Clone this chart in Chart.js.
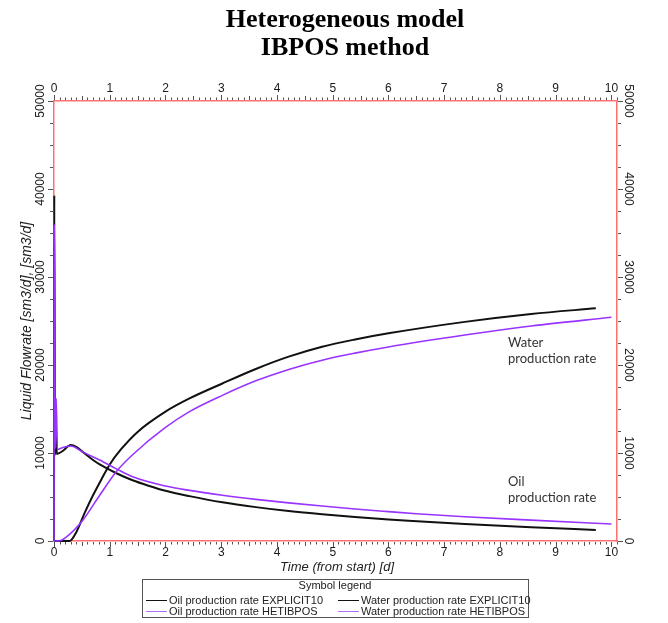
<!DOCTYPE html>
<html><head><meta charset="utf-8">
<script src="https://cdn.jsdelivr.net/npm/chart.js@4.4.0/dist/chart.umd.min.js"></script>
<style>html,body{margin:0;padding:0;background:#fff;} canvas{display:block;}</style>
</head><body>
<canvas id="c" width="668" height="623"></canvas>
<script>
// ---- text ----
const titleLines = ['Heterogeneous model', 'IBPOS method'];
const xTitle = 'Time (from start) [d]';
const yTitle = 'Liquid Flowrate [sm3/d], [sm3/d]';
const legendTitle = 'Symbol legend';
const seriesNames = ['Oil production rate EXPLICIT10', 'Water production rate EXPLICIT10',
                     'Oil production rate HETIBPOS', 'Water production rate HETIBPOS'];
const annotWater = ['Water', 'production rate'];
const annotOil = ['Oil', 'production rate'];

// ---- tick labels ----
const xTickLabels = ['0','1','2','3','4','5','6','7','8','9','10'];
const yTickLabels = ['0','10000','20000','30000','40000','50000'];

// ---- series (time [d], rate [sm3/d]) ----
const tOilExp = [0, 0.005, 0.02, 0.035, 0.05, 0.15, 0.3, 0.4, 0.52, 0.7, 0.82, 1.12, 1.41, 1.71, 2.0, 2.43, 3.02, 3.62, 4.21, 4.81, 5.4, 6.0, 6.36, 7.37, 8.56, 9.72];
const oilExp  = [0, 39300, 9800, 13400, 9900, 10200, 10900, 10700, 10100, 9200, 8700, 7700, 6900, 6250, 5700, 5100, 4400, 3850, 3400, 3030, 2720, 2440, 2290, 1930, 1560, 1250];

const tWatExp = [0, 0.28, 0.4, 0.55, 0.7, 0.85, 1.0, 1.2, 1.5, 2.0, 2.43, 3.02, 3.62, 4.21, 4.81, 5.4, 6.0, 7.37, 8.56, 9.72];
const watExp  = [0, 0, 1000, 3200, 5200, 7000, 8700, 10400, 12400, 14700, 16200, 17900, 19550, 20950, 22080, 22900, 23600, 24900, 25800, 26440];

const tOilHet = [0, 0.005, 0.02, 0.04, 0.06, 0.15, 0.3, 0.52, 0.82, 1.12, 1.41, 2.0, 2.43, 3.02, 3.62, 4.21, 4.81, 5.4, 6.0, 6.5, 7.37, 8.56, 10.0];
const oilHet  = [0, 36000, 10500, 16200, 10400, 10600, 10800, 10100, 9200, 8200, 7300, 6250, 5750, 5200, 4730, 4330, 3970, 3640, 3340, 3100, 2760, 2370, 1930];

const tWatHet = [0, 0.08, 0.23, 0.52, 0.82, 1.12, 1.41, 2.0, 2.43, 3.02, 3.62, 4.21, 4.81, 5.4, 6.0, 7.37, 8.56, 10.0];
const watHet  = [0, 0, 500, 2390, 5200, 7900, 9800, 12900, 14700, 16550, 18200, 19500, 20550, 21350, 22050, 23400, 24430, 25420];

const BLACK = '#111111';
const PURPLE = '#9933ff';
const LEG_PURPLE = '#b46cff';
const AXIS_RED = '#ff7070';
const TICK_COL = '#555555';

function pts(t, v) { return t.map((x, i) => ({x: x, y: v[i]})); }

const decor = {
  id: 'decor',
  afterDraw(chart) {
    const ctx = chart.ctx;
    const xs = chart.scales.x, x2 = chart.scales.x2, ys = chart.scales.y, y2 = chart.scales.y2;
    const ca = chart.chartArea;
    ctx.save();
    // minor/major ticks
    ctx.strokeStyle = TICK_COL; ctx.lineWidth = 1;
    for (let i = 0; i <= 101; i++) {
      const v = i / 10;
      const len = (i % 10 === 0) ? 5 : (i % 5 === 0 ? 4 : 2.5);
      const px = Math.round(xs.getPixelForValue(v)) + 0.5;
      ctx.beginPath();
      ctx.moveTo(px, ca.bottom + 1); ctx.lineTo(px, ca.bottom + 1 + len);
      ctx.moveTo(px, ca.top - 1); ctx.lineTo(px, ca.top - 1 - len);
      ctx.stroke();
    }
    for (let i = 0; i <= 20; i++) {
      const v = i * 2500;
      const len = (i % 4 === 0) ? 5 : 3;
      const py = Math.round(ys.getPixelForValue(v)) + 0.5;
      ctx.beginPath();
      ctx.moveTo(ca.left - 1, py); ctx.lineTo(ca.left - 1 - len, py);
      ctx.moveTo(ca.right + 1, py); ctx.lineTo(ca.right + 1 + len, py);
      ctx.stroke();
    }
    // tick labels
    ctx.fillStyle = '#1a1a1a';
    ctx.font = '12px "Liberation Sans", Arial, sans-serif';
    ctx.textAlign = 'center'; ctx.textBaseline = 'middle';
    xTickLabels.forEach(l => {
      const v = parseFloat(l);
      ctx.fillText(l, xs.getPixelForValue(v), 553);
      ctx.fillText(l, x2.getPixelForValue(v), 89);
    });
    yTickLabels.forEach(l => {
      const v = parseFloat(l);
      let py = ys.getPixelForValue(v);
      ctx.save(); ctx.translate(41, py); ctx.rotate(-Math.PI / 2); ctx.fillText(l, 0, 0); ctx.restore();
      py = y2.getPixelForValue(v);
      ctx.save(); ctx.translate(628, py); ctx.rotate(Math.PI / 2); ctx.fillText(l, 0, 0); ctx.restore();
    });
    // axis titles
    ctx.font = 'italic 14px "Liberation Sans", Arial, sans-serif';
    ctx.fillStyle = '#222';
    ctx.save(); ctx.translate(27, (ca.top + ca.bottom) / 2); ctx.rotate(-Math.PI / 2);
    ctx.fillText(yTitle, 0, 0); ctx.restore();
    ctx.font = 'italic 13px "Liberation Sans", Arial, sans-serif';
    ctx.fillText(xTitle, 337, 567);
    // chart title
    ctx.fillStyle = '#000';
    ctx.font = 'bold 26px "Liberation Serif", "Times New Roman", serif';
    ctx.fillText(titleLines[0], 345, 20);
    ctx.fillText(titleLines[1], 345, 48);
    // annotations
    ctx.fillStyle = '#333';
    ctx.font = '13px Lato, "Liberation Sans", sans-serif';
    ctx.textAlign = 'left';
    ctx.fillText(annotWater[0], 508, 343);
    ctx.fillText(annotWater[1], 508, 359);
    ctx.fillText(annotOil[0], 508, 482);
    ctx.fillText(annotOil[1], 508, 498);
    // legend box
    ctx.strokeStyle = '#555'; ctx.lineWidth = 1;
    ctx.strokeRect(142.5, 579.5, 386, 38);
    ctx.fillStyle = '#222';
    ctx.font = '11px "Liberation Sans", Arial, sans-serif';
    ctx.textAlign = 'center';
    ctx.fillText(legendTitle, 335, 586);
    ctx.textAlign = 'left';
    const rows = [[seriesNames[0], BLACK, 146, 600.5], [seriesNames[1], BLACK, 338, 600.5],
                  [seriesNames[2], LEG_PURPLE, 146, 611.5], [seriesNames[3], LEG_PURPLE, 338, 611.5]];
    rows.forEach(r => {
      ctx.strokeStyle = r[1]; ctx.lineWidth = 1;
      ctx.beginPath(); ctx.moveTo(r[2], r[3]); ctx.lineTo(r[2] + 21, r[3]); ctx.stroke();
      ctx.fillText(r[0], r[2] + 23, r[3]);
    });
    ctx.restore();
  }
};

const gridOff = { display: false, drawOnChartArea: false, drawTicks: false };
function fixW(w) { return s => { s.width = w; }; }
function fixH(h) { return s => { s.height = h; }; }

new Chart(document.getElementById('c'), {
  type: 'line',
  data: {
    datasets: [
      { label: seriesNames[2], data: pts(tOilHet, oilHet), borderColor: PURPLE, borderWidth: 1.6, order: 1 },
      { label: seriesNames[3], data: pts(tWatHet, watHet), borderColor: PURPLE, borderWidth: 1.6, order: 2 },
      { label: seriesNames[0], data: pts(tOilExp, oilExp), borderColor: BLACK, borderWidth: 2, order: 3 },
      { label: seriesNames[1], data: pts(tWatExp, watExp), borderColor: BLACK, borderWidth: 2, order: 4 }
    ].map(d => Object.assign(d, { pointRadius: 0, fill: false, cubicInterpolationMode: 'monotone', clip: 4 }))
  },
  options: {
    responsive: false,
    animation: false,
    layout: { padding: 0 },
    plugins: { legend: { display: false }, title: { display: false }, tooltip: { enabled: false } },
    scales: {
      x: { type: 'linear', position: 'bottom', min: 0, max: 10.1,
           grid: gridOff, ticks: { display: false, stepSize: 1 },
           border: { display: true, color: AXIS_RED, width: 1.5 }, afterFit: fixH(82) },
      x2: { type: 'linear', position: 'top', min: 0, max: 10.1,
           grid: gridOff, ticks: { display: false, stepSize: 1 },
           border: { display: true, color: AXIS_RED, width: 1.5 }, afterFit: fixH(101) },
      y: { type: 'linear', position: 'left', min: 0, max: 50000,
           grid: gridOff, ticks: { display: false, stepSize: 10000 },
           border: { display: true, color: AXIS_RED, width: 1.5 }, afterFit: fixW(54) },
      y2: { type: 'linear', position: 'right', min: 0, max: 50000,
           grid: gridOff, ticks: { display: false, stepSize: 10000 },
           border: { display: true, color: AXIS_RED, width: 1.5 }, afterFit: fixW(51) }
    }
  },
  plugins: [decor]
});
</script>
</body></html>
